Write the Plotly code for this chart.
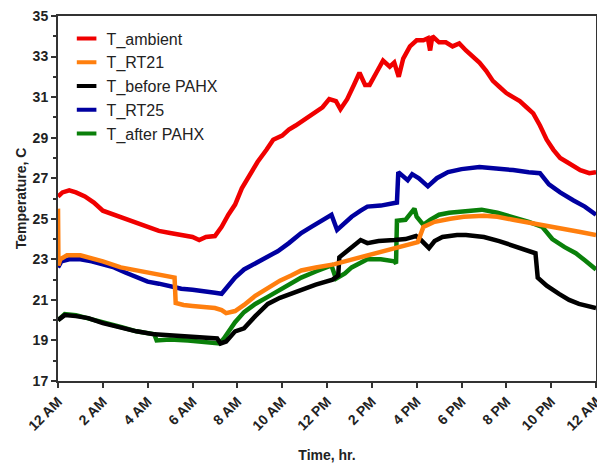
import plotly.graph_objects as go

hours_ticks = [0, 2, 4, 6, 8, 10, 12, 14, 16, 18, 20, 22, 24]
hour_labels = ["12 AM", "2 AM", "4 AM", "6 AM", "8 AM", "10 AM", "12 PM",
               "2 PM", "4 PM", "6 PM", "8 PM", "10 PM", "12 AM"]
temp_ticks = [17, 19, 21, 23, 25, 27, 29, 31, 33, 35]

t_ambient = [0.0, 0.2, 0.5, 0.8, 1.2, 1.6, 2.0, 2.5, 3.0, 3.5, 4.0, 4.5, 5.0, 5.5, 6.0, 6.3, 6.6, 7.0,
             7.3, 7.6, 7.9, 8.2, 8.55, 8.9, 9.3, 9.6, 10.0, 10.3, 10.6, 11.0, 11.5, 11.8, 12.1, 12.4,
             12.6, 12.9, 13.2, 13.45, 13.7, 13.9, 14.2, 14.5, 14.8, 15.0, 15.2, 15.4, 15.7, 16.0,
             16.3, 16.5, 16.6, 16.7, 17.0, 17.3, 17.6, 17.9, 18.2, 18.5, 18.8, 19.1, 19.4, 19.7,
             20.0, 20.3, 20.6, 20.9, 21.2, 21.5, 21.8, 22.1, 22.4, 22.7, 23.0, 23.3, 23.7, 24.0]
v_ambient = [26.1, 26.3, 26.4, 26.3, 26.1, 25.8, 25.4, 25.2, 25.0, 24.8, 24.6, 24.4, 24.3, 24.2, 24.1, 23.95, 24.1, 24.15,
             24.6, 25.2, 25.7, 26.5, 27.2, 27.8, 28.4, 28.9, 29.1, 29.4, 29.6, 29.9, 30.3, 30.5, 30.9, 30.8,
             30.4, 30.9, 31.6, 32.2, 31.6, 31.6, 32.2, 32.8, 32.5, 32.7, 32.0, 32.9, 33.5, 33.8,
             33.8, 33.9, 33.3, 34.0, 33.7, 33.7, 33.5, 33.65, 33.3, 33.0, 32.7, 32.3, 31.8, 31.5,
             31.2, 31.0, 30.8, 30.5, 30.2, 29.6, 28.9, 28.4, 28.0, 27.8, 27.6, 27.4, 27.25, 27.3]

t_rt21 = [0.0, 0.02, 0.1, 0.4, 1.0, 1.5, 2.0, 2.8, 3.5, 4.3, 5.1, 5.2, 5.25, 5.6, 6.0, 6.5, 7.0, 7.3,
          7.5, 7.9, 8.3, 8.8, 9.36, 9.9, 10.4, 10.85, 11.5, 12.3, 12.8, 13.3, 13.8, 14.5, 15.3,
          15.8, 16.05, 16.3, 16.8, 17.5, 18.1, 19.0, 19.6, 20.3, 21.1, 21.8, 22.6, 23.3, 24.0]
v_rt21 = [25.5, 22.7, 23.0, 23.2, 23.2, 23.05, 22.9, 22.6, 22.45, 22.3, 22.15, 22.1, 20.85, 20.75, 20.7, 20.65, 20.6, 20.5,
          20.35, 20.45, 20.75, 21.2, 21.6, 21.95, 22.2, 22.45, 22.6, 22.75, 22.9, 23.05, 23.2, 23.4, 23.6,
          23.75, 23.85, 24.6, 24.85, 25.0, 25.1, 25.15, 25.1, 24.95, 24.8, 24.65, 24.5, 24.35, 24.2]

t_before = [0.0, 0.3, 0.8, 1.35, 2.0, 2.84, 3.5, 4.3, 5.0, 5.8, 6.5, 7.1, 7.25, 7.5, 7.9, 8.3, 8.8,
            9.36, 9.9, 10.4, 10.85, 11.5, 12.25, 12.5, 12.55, 13.0, 13.5, 13.8, 14.3, 15.0, 15.5,
            15.97, 16.15, 16.55, 16.8, 17.15, 17.8, 18.2, 19.0, 19.68, 20.4, 21.15, 21.3, 21.4,
            21.8, 22.35, 22.8, 23.24, 23.6, 24.0]
v_before = [20.0, 20.25, 20.2, 20.1, 19.85, 19.6, 19.45, 19.3, 19.25, 19.2, 19.15, 19.1, 18.85, 18.95, 19.45, 19.6, 20.2,
            20.8, 21.1, 21.3, 21.5, 21.75, 22.0, 22.2, 23.1, 23.5, 23.95, 23.8, 23.9, 23.95, 24.0,
            24.15, 24.0, 23.55, 23.9, 24.1, 24.2, 24.2, 24.1, 23.9, 23.65, 23.4, 23.3, 22.1,
            21.7, 21.3, 21.0, 20.8, 20.7, 20.6]

t_rt25 = [0.0, 0.15, 0.5, 1.0, 1.5, 2.0, 2.5, 3.0, 3.5, 4.0, 4.5, 5.0, 5.5, 6.0, 6.5, 7.0, 7.3, 7.6,
          7.9, 8.3, 8.8, 9.36, 9.8, 10.3, 10.85, 11.3, 11.8, 12.2, 12.45, 12.8, 13.1, 13.5, 13.8,
          14.4, 15.0, 15.12, 15.18, 15.4, 15.6, 15.8, 16.1, 16.5, 16.9, 17.4, 18.0, 18.8, 19.5,
          20.3, 21.0, 21.5, 21.9, 22.4, 23.0, 23.5, 24.0]
v_rt25 = [22.6, 22.9, 23.0, 23.0, 22.9, 22.75, 22.6, 22.35, 22.1, 21.9, 21.8, 21.65, 21.55, 21.5, 21.4, 21.35, 21.3, 21.7,
          22.1, 22.5, 22.8, 23.1, 23.4, 23.8, 24.3, 24.6, 24.9, 25.2, 24.45, 24.8, 25.1, 25.4, 25.6,
          25.65, 25.75, 25.8, 27.3, 27.1, 26.9, 27.2, 27.0, 26.6, 27.0, 27.3, 27.45, 27.55, 27.5,
          27.4, 27.3, 27.25, 26.7, 26.3, 25.9, 25.6, 25.2]

t_after = [0.0, 0.3, 0.8, 1.35, 2.0, 2.84, 3.5, 4.3, 4.4, 5.0, 5.8, 6.5, 7.2, 7.4, 7.6, 7.9, 8.3,
           8.8, 9.36, 9.9, 10.4, 10.85, 11.5, 12.2, 12.4, 12.8, 13.1, 13.5, 13.8, 14.4, 15.0,
           15.08, 15.12, 15.5, 15.9, 16.0, 16.3, 16.6, 17.0, 17.45, 18.2, 18.9, 19.6, 20.4, 21.0,
           21.6, 22.05, 22.6, 23.1, 23.5, 24.0]
v_after = [20.0, 20.3, 20.25, 20.1, 19.9, 19.65, 19.45, 19.3, 19.0, 19.05, 19.0, 18.95, 18.85, 19.1, 19.4, 19.9, 20.4,
           20.8, 21.15, 21.5, 21.8, 22.1, 22.4, 22.7, 22.05, 22.3, 22.6, 22.85, 23.0, 23.0, 22.9,
           22.8, 24.9, 24.95, 25.5, 25.1, 24.7, 24.95, 25.2, 25.3, 25.4, 25.45, 25.3, 25.05, 24.85,
           24.6, 24.0, 23.6, 23.3, 22.95, 22.5]

series = {
    "T_ambient": (t_ambient, v_ambient, "#F00000"),
    "T_RT21": (t_rt21, v_rt21, "#FF7F0E"),
    "T_before PAHX": (t_before, v_before, "#000000"),
    "T_RT25": (t_rt25, v_rt25, "#0000A0"),
    "T_after PAHX": (t_after, v_after, "#0A800A"),
}
draw_order = ["T_after PAHX", "T_RT25", "T_before PAHX", "T_RT21", "T_ambient"]
legend_order = ["T_ambient", "T_RT21", "T_before PAHX", "T_RT25", "T_after PAHX"]

fig = go.Figure()
for name in draw_order:
    xs, ys, col = series[name]
    fig.add_trace(go.Scatter(x=xs, y=ys, mode="lines", name=name, showlegend=False,
                             line=dict(color=col, width=4.5)))
for name in legend_order:
    col = series[name][2]
    fig.add_trace(go.Scatter(x=[None], y=[None], mode="markers", name=name,
                             marker=dict(symbol="line-ew", size=14, color=col,
                                         line=dict(color=col, width=4))))

axis_font = dict(family="Liberation Sans, Arial, sans-serif", size=14, color="#222")
fig.update_layout(
    width=597, height=464,
    margin=dict(l=58, r=1, t=16, b=83, autoexpand=False),
    paper_bgcolor="white", plot_bgcolor="white",
    font=dict(family="Liberation Sans, Arial, sans-serif", color="#222"),
    legend=dict(x=0.016, y=0.985, xanchor="left", yanchor="top",
                font=dict(size=16, color="#222"), itemwidth=30,
                tracegroupgap=0, bgcolor="rgba(0,0,0,0)"),
    showlegend=True,
)
fig.update_xaxes(
    range=[0, 24], tickvals=hours_ticks, ticktext=["<b>%s</b>" % s for s in hour_labels],
    tickangle=-45, ticks="outside", ticklen=5, tickwidth=2, tickcolor="#333",
    ticklabeloverflow="allow",
    showline=True, linewidth=2, linecolor="#333", mirror=True, automargin=False,
    showgrid=False, zeroline=False, tickfont=axis_font,
    title=dict(text="<b>Time, hr.</b>", font=axis_font, standoff=18),
)
fig.update_yaxes(
    range=[17, 35], tickvals=temp_ticks, ticktext=["<b>%d</b>" % v for v in temp_ticks],
    ticks="outside", ticklen=5, tickwidth=2, tickcolor="#333",
    minor=dict(dtick=1, tick0=17, ticks="outside", ticklen=3, tickwidth=1.5, tickcolor="#333"),
    showline=True, linewidth=2, linecolor="#333", mirror=True, automargin=False,
    showgrid=False, zeroline=False, tickfont=axis_font,
    title=dict(text="<b>Temperature, C</b>", font=axis_font, standoff=3),
)
fig.write_html("out.html", config={"displayModeBar": False},
               post_script="document.body.style.margin='0px';document.body.style.overflow='hidden';")
